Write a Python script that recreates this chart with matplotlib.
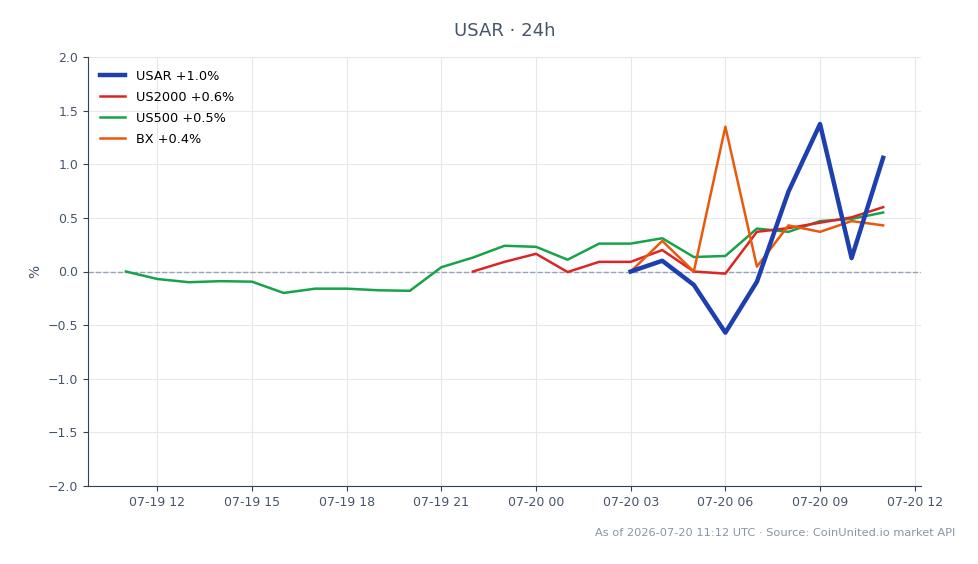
import matplotlib
matplotlib.use("Agg")
import matplotlib.pyplot as plt
import matplotlib.dates as mdates
import numpy as np
import pandas as pd

# hourly % change
hours = pd.date_range("2026-07-19 11:00", "2026-07-20 11:00", freq="h")

us500 = [0.0, -0.07, -0.10, -0.09, -0.095, -0.20, -0.16, -0.16, -0.175, -0.18,
         0.04, 0.13, 0.24, 0.23, 0.11, 0.26, 0.26, 0.31, 0.135, 0.145,
         0.40, 0.37, 0.47, 0.49, 0.55]
us2000 = [0.0, 0.09, 0.165, -0.005, 0.09, 0.09, 0.20, 0.0, -0.02,
          0.37, 0.405, 0.455, 0.505, 0.60]
bx = [0.0, 0.285, 0.0, 1.35, 0.045, 0.43, 0.37, 0.47, 0.43]
usar = [0.0, 0.10, -0.125, -0.57, -0.095, 0.745, 1.375, 0.125, 1.06]

labels = ["USAR +1.0%", "US2000 +0.6%", "US500 +0.5%", "BX +0.4%"]
colors = ["#1e40af", "#dc2626", "#16a34a", "#ea580c"]

fig = plt.figure(figsize=(9.79, 5.64), dpi=100)
ax = fig.add_axes([88 / 979, 1 - 486 / 564, (921 - 88) / 979, (486 - 57) / 564])

ax.axhline(0, color="#94a3b8", linestyle="--", linewidth=1, zorder=1)
ax.plot(hours[-len(usar):], usar, color=colors[0], linewidth=3.2, label=labels[0], zorder=5)
ax.plot(hours[-len(us2000):], us2000, color=colors[1], linewidth=1.8, label=labels[1], zorder=4)
ax.plot(hours, us500, color=colors[2], linewidth=1.8, label=labels[2], zorder=3)
ax.plot(hours[-len(bx):], bx, color=colors[3], linewidth=1.8, label=labels[3], zorder=4)

ax.set_ylim(-2.0, 2.0)
ax.set_yticks(np.arange(-2.0, 2.01, 0.5))
ax.xaxis.set_major_locator(mdates.HourLocator(byhour=range(0, 24, 3)))
ax.xaxis.set_major_formatter(mdates.DateFormatter("%m-%d %H"))

ax.grid(True, color="#e5e7eb", linewidth=0.8)
ax.set_axisbelow(True)
for s in ["top", "right"]:
    ax.spines[s].set_visible(False)
for s in ["left", "bottom"]:
    ax.spines[s].set_color("#334155")
ax.tick_params(colors="#334155", labelsize=9, labelcolor="#475569")
ax.set_ylabel("%", color="#475569", fontsize=10)

ax.set_title("USAR · 24h", color="#475569", fontsize=13, pad=15)
leg = ax.legend(loc="upper left", frameon=False, fontsize=9.3, labelspacing=0.62,
                bbox_to_anchor=(0.0, 0.997))
for t in leg.get_texts():
    t.set_color("black")

fig.text(955 / 979, 1 - 533 / 564, "As of 2026-07-20 11:12 UTC · Source: CoinUnited.io market API",
         ha="right", va="center", fontsize=8.2, color="#8a94a6")

fig.savefig("out.png", dpi=100)
